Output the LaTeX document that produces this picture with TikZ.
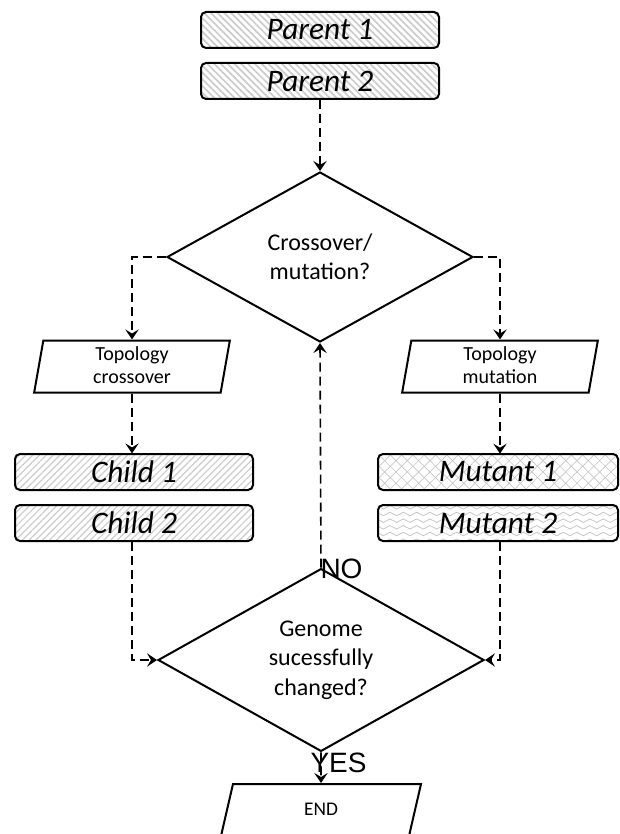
\documentclass[tikz,border=0pt]{standalone}
\usepackage{fontspec}
\setmainfont{Carlito}
\newfontfamily\arialfont{Liberation Sans}
\usetikzlibrary{shapes.geometric,arrows.meta,patterns,patterns.meta}

%wavy fill of the second mutant
\tikzdeclarepattern{
  name=ripples,
  type=uncolored,
  bounding box={(-0.5pt,-2pt) and (10.5pt,2pt)},
  tile size={(10pt,5pt)},
  code={
    \draw[line width=0.6pt] (0pt,0pt) sin (2.5pt,1.3pt) cos (5pt,0pt) sin (7.5pt,-1.3pt) cos (10pt,0pt);
  }
}

\tikzset{every picture/.style={line width=0.75pt}}
\tikzset{
  genome/.style={draw, line width=1.5pt, rounded corners=3.75pt, minimum width=178.5pt, minimum height=27pt, inner sep=0pt, font=\fontsize{23.5}{26}\selectfont\itshape},
  parentfill/.style={pattern={Lines[angle=-45,distance=3.6pt,line width=1.3pt]}, pattern color=gray!40},
  childfill/.style={pattern={Lines[angle=45,distance=3.6pt,line width=0.9pt]}, pattern color=gray!40},
  mutantfill/.style={preaction={pattern={Lines[angle=45,distance=6pt,line width=0.5pt]}, pattern color=gray!45}, pattern={Lines[angle=-45,distance=6pt,line width=0.5pt]}, pattern color=gray!45},
  wavefill/.style={pattern=ripples, pattern color=gray!45},
  decision/.style={draw, shape=diamond, line width=1.5pt, inner sep=0pt, align=center, font=\fontsize{18}{22}\selectfont},
  operator/.style={draw, shape=trapezium, trapezium left angle=80, trapezium right angle=100, line width=1.5pt, inner sep=0pt, text width=133pt, text height=15pt, text depth=24pt, align=center, font=\fontsize{15}{17.25}\selectfont},
  flow/.style={line width=1.2pt, dash pattern=on 6.75pt off 3.75pt, -{Stealth[length=7.5pt,width=10pt,inset=3pt]}},
  answer/.style={anchor=base west, inner sep=0pt, font=\arialfont\fontsize{21}{24}\selectfont}
}

\begin{document}
\begin{tikzpicture}[x=0.75pt,y=0.75pt,yscale=-1,xscale=1]
\useasboundingbox (0,0) rectangle (619,834);
\clip (0,0) rectangle (619,834);

%Shape: parents
\node (parent1) [genome, parentfill] at (320,30) {Parent 1};
\node (parent2) [genome, parentfill] at (320,81) {Parent 2};

%Shape: first decision
\node (choice) [decision, minimum width=229.5pt, minimum height=127.5pt] at (320,257) {Crossover/\\mutation?};

%Shape: operators
\node (cross) [operator] at (132,366.5) {Topology\\crossover};
\node (mutate) [operator] at (500,366.5) {Topology\\mutation};

%Shape: offspring
\node (child1) [genome, childfill] at (134,472) {Child 1};
\node (child2) [genome, childfill] at (134,523) {Child 2};
\node (mutant1) [genome, mutantfill, minimum width=180pt] at (498,472) {Mutant 1};
\node (mutant2) [genome, wavefill, minimum width=180pt] at (498,523) {Mutant 2};

%Shape: second decision
\node (check) [decision, minimum width=244.5pt, minimum height=109.5pt] at (321,660) {Genome\\sucessfully\\changed?};

%Shape: end
\node (stop) [operator, trapezium left angle=77, trapezium right angle=103, text width=132pt, text height=23.25pt, text depth=15.75pt, font=\fontsize{14.5}{17}\selectfont] at (321,810) {END};

% Text Node
\node (no) [answer] at (320,578) {NO};
% Text Node
\node (yes) [answer] at (310,772) {YES};

%Straight Lines
\draw [flow] (parent2.south) -- (choice.north);
\draw [flow] (choice.west) -| (cross.north);
\draw [flow] (choice.east) -| (mutate.north);
\draw [flow] (cross.south) -- (cross.south |- child1.north);
\draw [flow] (mutate.south) -- (mutate.south |- mutant1.north);
\draw [flow] (child2.south -| cross.south) |- (check.west);
\draw [flow] (mutant2.south -| mutate.south) |- (check.east);
\draw [flow] (check.north) -- (choice.south);
\draw [flow] (check.south) -- (stop.north);

\end{tikzpicture}
\end{document}
